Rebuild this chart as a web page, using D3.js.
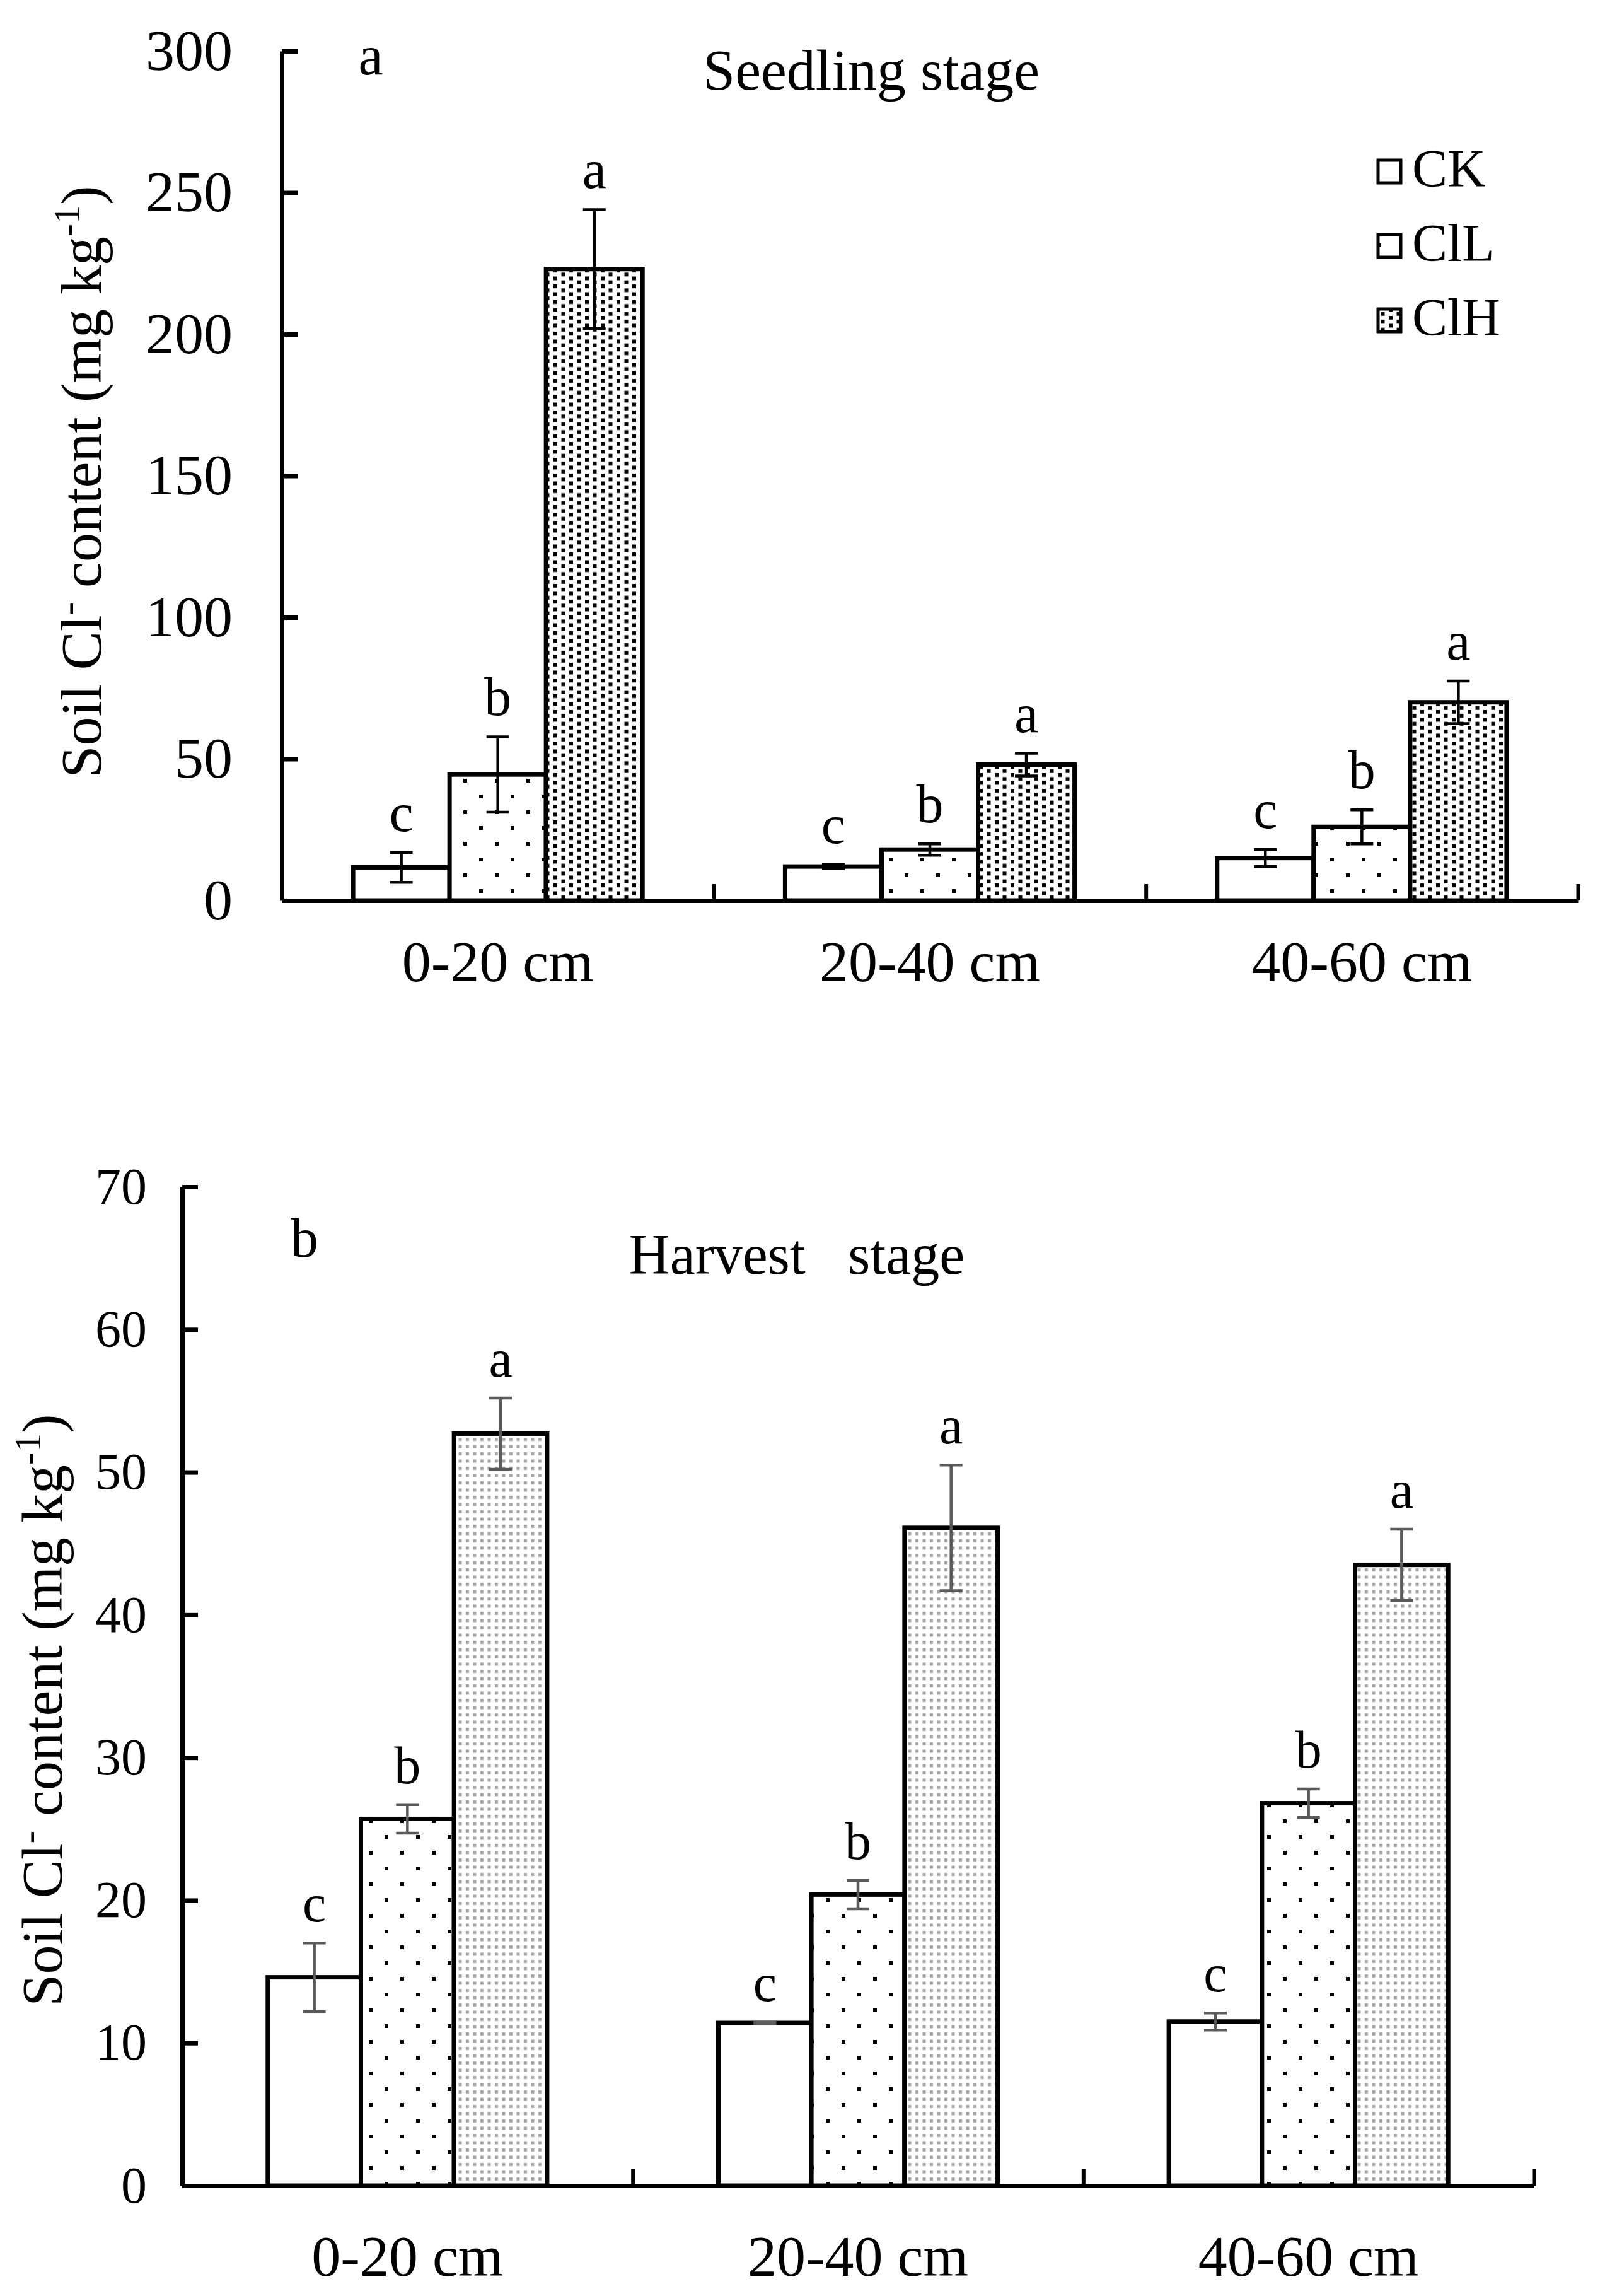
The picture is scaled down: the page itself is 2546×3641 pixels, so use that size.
<!DOCTYPE html>
<html>
<head>
<meta charset="utf-8">
<script src="https://cdn.jsdelivr.net/npm/d3@7"></script>
<style>
  html, body { margin: 0; padding: 0; background: #fff; }
  svg text { font-family: "Liberation Serif", "Times New Roman", serif; fill: #000; }
</style>
</head>
<body>
<div id="chart"></div>
<script>
// Data
const categories = ["0-20 cm", "20-40 cm", "40-60 cm"];
const series = ["CK", "ClL", "ClH"];

const seedlingCK = [11.7, 12, 15];
const seedlingClL = [44.5, 18, 26];
const seedlingClH = [223, 48, 70];
const seedlingErrCK = [5.3, 0.8, 3];
const seedlingErrClL = [13.3, 2, 6];
const seedlingErrClH = [21, 4, 7.5];

const harvestCK = [14.6, 11.4, 11.5];
const harvestClL = [25.7, 20.4, 26.8];
const harvestClH = [52.7, 46.1, 43.5];
const harvestErrCK = [2.4, 0.05, 0.6];
const harvestErrClL = [1, 1, 1];
const harvestErrClH = [2.5, 4.4, 2.5];

const sigCK = ["c", "c", "c"];
const sigClL = ["b", "b", "b"];
const sigClH = ["a", "a", "a"];

const seedlingTicks = [0, 50, 100, 150, 200, 250, 300];
const harvestTicks = [0, 10, 20, 30, 40, 50, 60, 70];

// build rows for one panel
const makeRows = function(means, errs) {
  const rows = [];
  const sigs = [sigCK, sigClL, sigClH];
  categories.forEach((cat, i) => {
    series.forEach((s, j) => {
      rows.push({cat: cat, series: s, value: means[j][i], err: errs[j][i], sig: sigs[j][i]});
    });
  });
  return rows;
};

const svg = d3.select("#chart").append("svg")
  .attr("width", 2546)
  .attr("height", 3641);

svg.append("rect").attr("width", 2546).attr("height", 3641).attr("fill", "#fff");

// Fill patterns
const defs = svg.append("defs");

const sparse = defs.append("pattern").attr("id", "p-sparse")
  .attr("patternUnits", "userSpaceOnUse").attr("width", 50).attr("height", 50);
sparse.append("rect").attr("width", 50).attr("height", 50).attr("fill", "#fff");
sparse.append("rect").attr("x", 10).attr("y", 10).attr("width", 6).attr("height", 6).attr("fill", "#000");
sparse.append("rect").attr("x", 35).attr("y", 35).attr("width", 6).attr("height", 6).attr("fill", "#000");

const dense = defs.append("pattern").attr("id", "p-dense")
  .attr("patternUnits", "userSpaceOnUse").attr("width", 25).attr("height", 12.5);
dense.append("rect").attr("width", 25).attr("height", 12.5).attr("fill", "#fff");
dense.append("rect").attr("x", 3).attr("y", 1).attr("width", 6).attr("height", 6).attr("fill", "#000");
dense.append("rect").attr("x", 15.5).attr("y", 7.25).attr("width", 6).attr("height", 6).attr("fill", "#000");
dense.append("rect").attr("x", 15.5).attr("y", -5.25).attr("width", 6).attr("height", 6).attr("fill", "#000");

const grey = defs.append("pattern").attr("id", "p-grey")
  .attr("patternUnits", "userSpaceOnUse").attr("width", 11.5).attr("height", 11.5);
grey.append("rect").attr("width", 11.5).attr("height", 11.5).attr("fill", "#fff");
grey.append("rect").attr("x", 3).attr("y", 3).attr("width", 5).attr("height", 5).attr("fill", "#a3a3a3");

// Draw one panel
const drawPanel = function(cfg) {
  const rows = makeRows(cfg.means, cfg.errs);

  const y = d3.scaleLinear().domain(cfg.yDomain).range([cfg.bottom, cfg.top]);
  const x0 = d3.scaleBand().domain(categories).range([cfg.left, cfg.right]);
  const bw = x0.bandwidth();
  const x1 = d3.scaleBand().domain(series).range([bw * cfg.pad, bw * (1 - cfg.pad)]);
  const bound = d3.scaleLinear().domain([0, categories.length]).range([cfg.left, cfg.right]);

  const g = svg.append("g");

  // bars
  g.selectAll("rect.bar")
    .data(rows)
    .enter()
    .append("rect")
    .attr("class", "bar")
    .attr("x", d => x0(d.cat) + x1(d.series))
    .attr("y", d => y(d.value))
    .attr("width", x1.bandwidth())
    .attr("height", d => y(0) - y(d.value))
    .attr("fill", d => cfg.fills[d.series])
    .attr("stroke", "#000")
    .attr("stroke-width", 7);

  // error bars
  const cx = d => x0(d.cat) + x1(d.series) + x1.bandwidth() / 2;
  const eb = g.selectAll("g.err").data(rows).enter().append("g")
    .attr("stroke", cfg.errColor).attr("stroke-width", 4.5);
  eb.append("line")
    .attr("x1", cx).attr("x2", cx)
    .attr("y1", d => y(d.value + d.err)).attr("y2", d => y(d.value - d.err));
  eb.append("line")
    .attr("x1", d => cx(d) - 18).attr("x2", d => cx(d) + 18)
    .attr("y1", d => y(d.value + d.err)).attr("y2", d => y(d.value + d.err));
  eb.append("line")
    .attr("x1", d => cx(d) - 18).attr("x2", d => cx(d) + 18)
    .attr("y1", d => y(d.value - d.err)).attr("y2", d => y(d.value - d.err));

  // significance letters
  g.selectAll("text.sig").data(rows).enter().append("text")
    .attr("class", "sig")
    .attr("x", cx)
    .attr("y", d => y(d.value + d.err) - 34)
    .attr("text-anchor", "middle")
    .style("font-size", cfg.sigSize + "px")
    .text(d => d.sig);

  // y axis (ticks point inward)
  const yAxis = g.append("g")
    .attr("transform", `translate(${cfg.left},0)`)
    .call(d3.axisLeft(y).tickValues(cfg.ticks).tickSizeInner(-25).tickSizeOuter(0).tickPadding(cfg.yPad));
  yAxis.select(".domain").attr("stroke-width", 7);
  yAxis.selectAll(".tick line").attr("stroke-width", 7);
  yAxis.selectAll("text").style("font-size", cfg.tickSize + "px").attr("fill", "#000");

  // x axis line with boundary ticks pointing up
  const xAxis = g.append("g")
    .attr("transform", `translate(0,${cfg.bottom})`)
    .call(d3.axisBottom(bound).tickValues([1, 2, 3]).tickSizeInner(-26).tickSizeOuter(0).tickFormat(""));
  xAxis.select(".domain").attr("stroke-width", 7);
  xAxis.selectAll(".tick line").attr("stroke-width", 6);

  // category labels
  const xLab = g.append("g")
    .attr("transform", `translate(0,${cfg.bottom})`)
    .call(d3.axisBottom(x0).tickSize(0).tickPadding(cfg.xPad));
  xLab.select(".domain").remove();
  xLab.selectAll("text").style("font-size", "92px").attr("fill", "#000");

  // y axis title
  const yt = g.append("text")
    .attr("transform", `translate(${cfg.yTitleX},${cfg.yTitleY}) rotate(-90)`)
    .attr("text-anchor", "middle")
    .style("font-size", "92px")
    .attr("fill", cfg.titleColor);
  yt.append("tspan").text("Soil Cl");
  yt.append("tspan").attr("dy", -32).style("font-size", "62px").text("-");
  yt.append("tspan").attr("dy", 32).text(" content (mg kg");
  yt.append("tspan").attr("dy", -34).style("font-size", "60px").text("-1");
  yt.append("tspan").attr("dy", 34).text(")");

  // panel letter and title
  g.append("text").attr("x", cfg.letterX).attr("y", cfg.letterY)
    .attr("text-anchor", "middle").style("font-size", "88px").text(cfg.letter);
  g.append("text").attr("x", cfg.titleX).attr("y", cfg.titleY)
    .attr("text-anchor", "middle").style("font-size", cfg.titleSize + "px")
    .style("white-space", "pre").text(cfg.title);

  return g;
};

drawPanel({
  means: [seedlingCK, seedlingClL, seedlingClH],
  errs: [seedlingErrCK, seedlingErrClL, seedlingErrClH],
  yDomain: [0, 300], ticks: seedlingTicks,
  top: 81, bottom: 1428, left: 447, right: 2503, pad: 0.165,
  fills: {CK: "#fff", ClL: "url(#p-sparse)", ClH: "url(#p-dense)"},
  errColor: "#000", sigSize: 86, tickSize: 92, yPad: 78, xPad: 63,
  yTitleX: 160, yTitleY: 764, titleColor: "#000",
  letter: "a", letterX: 588, letterY: 118,
  title: "Seedling stage", titleX: 1382, titleY: 142, titleSize: 92
});

drawPanel({
  means: [harvestCK, harvestClL, harvestClH],
  errs: [harvestErrCK, harvestErrClL, harvestErrClH],
  yDomain: [0, 70], ticks: harvestTicks,
  top: 1882, bottom: 3466, left: 289, right: 2433, pad: 0.19,
  fills: {CK: "#fff", ClL: "url(#p-sparse)", ClH: "url(#p-grey)"},
  errColor: "#5a5a5a", sigSize: 84, tickSize: 82, yPad: 56, xPad: 78,
  yTitleX: 98, yTitleY: 2712, titleColor: "#222",
  letter: "b", letterX: 483, letterY: 1993,
  title: "Harvest   stage", titleX: 1264, titleY: 2020, titleSize: 90
});

// Legend (top panel)
const legend = svg.append("g");
series.forEach((s, i) => {
  const fill = ["#fff", "url(#p-sparse)", "url(#p-dense)"][i];
  legend.append("rect")
    .attr("x", 2186).attr("y", 254 + i * 118)
    .attr("width", 36).attr("height", 36)
    .attr("fill", fill).attr("stroke", "#000").attr("stroke-width", 5);
  legend.append("text")
    .attr("x", 2240).attr("y", 296 + i * 118)
    .style("font-size", "84px")
    .text(s);
});
</script>
</body>
</html>
